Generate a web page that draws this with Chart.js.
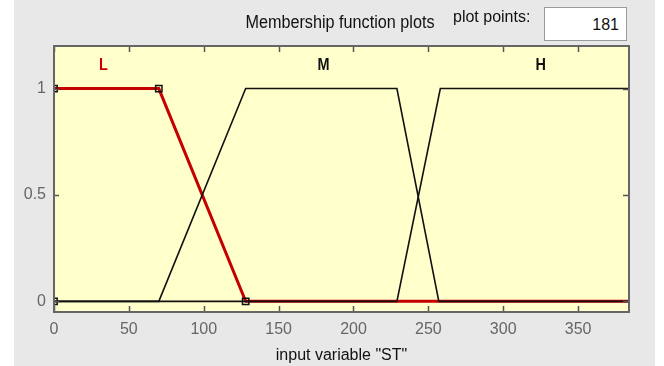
<!DOCTYPE html>
<html>
<head>
<meta charset="utf-8">
<script src="https://cdn.jsdelivr.net/npm/chart.js@4.4.1/dist/chart.umd.min.js"></script>
<style>
  html, body { margin: 0; padding: 0; background: #fff; }
  #wrap { position: relative; width: 664px; height: 366px; }
  #pp { position: absolute; left: 453px; top: 8px; font: 16px 'Liberation Sans', Arial, sans-serif; color: #111; }
  #box { position: absolute; left: 544px; top: 7px; width: 81px; height: 32px; background: #fff; border: 1px solid #9a9a9a;
         font: 16px 'Liberation Sans', Arial, sans-serif; color: #111; text-align: right; line-height: 33px; }
  #box span { padding-right: 7px; }
</style>
</head>
<body>
<div id="wrap">
  <canvas id="mfChart" width="664" height="366"></canvas>
  <div id="pp">plot points:</div>
  <div id="box"><span>181</span></div>
</div>
<script>
var fnt = "'Liberation Sans', Arial, sans-serif";

// axis ticks
var xTicks = [0, 50, 100, 150, 200, 250, 300, 350];
var yTicks = [0, 0.5, 1];

// membership functions (x, y)
var lowX  = [0, 70, 128, 384];
var lowY  = [1, 1, 0, 0];
var midX  = [0, 70, 128, 229, 257, 384];
var midY  = [0, 0, 1, 1, 0, 0];
var highX = [0, 229, 258, 384];
var highY = [0, 0, 1, 1];

// vertices of the selected MF (L)
var vertX = [0, 0, 70, 128];
var vertY = [0, 1, 1, 0];

// MF names and where they are written
var mfNames  = ["L", "M", "H"];
var mfLabelX = [33, 180, 325];
var mfLabelY = 1.11;
var mfColors = ["#c80000", "#111111", "#111111"];

function pts(xs, ys) {
  return xs.map(function (x, i) { return { x: x, y: ys[i] }; });
}

// narrow text, like the original GUI font
function narrowText(ctx, txt, x, y, sx) {
  ctx.save();
  ctx.translate(x, y);
  ctx.scale(sx, 1);
  ctx.fillText(txt, 0, 0);
  ctx.restore();
}

var panelBg = {
  id: 'panelBg',
  beforeDraw: function (chart) {
    var ctx = chart.ctx, a = chart.chartArea;
    ctx.save();
    ctx.fillStyle = '#e8e8e8';
    ctx.fillRect(14, 0, 641, chart.height);
    ctx.fillStyle = '#ffffcc';
    ctx.fillRect(a.left, a.top, a.right - a.left, a.bottom - a.top);
    ctx.restore();
  },
  afterDraw: function (chart) {
    var ctx = chart.ctx, a = chart.chartArea;
    var xs = chart.scales.x, ys = chart.scales.y;
    ctx.save();
    // inward tick marks
    ctx.strokeStyle = '#555';
    ctx.lineWidth = 1.5;
    ctx.beginPath();
    xTicks.forEach(function (v) {
      var px = Math.round(xs.getPixelForValue(v)) + 0.5;
      ctx.moveTo(px, a.bottom); ctx.lineTo(px, a.bottom - 6);
      ctx.moveTo(px, a.top); ctx.lineTo(px, a.top + 6);
    });
    yTicks.forEach(function (v) {
      var py = Math.round(ys.getPixelForValue(v)) + 0.5;
      ctx.moveTo(a.left, py); ctx.lineTo(a.left + 5, py);
      ctx.moveTo(a.right, py); ctx.lineTo(a.right - 6, py);
    });
    ctx.stroke();
    // frame
    ctx.strokeStyle = '#666';
    ctx.lineWidth = 2;
    ctx.strokeRect(a.left, a.top, a.right - a.left, a.bottom - a.top);
    // MF names
    ctx.font = 'bold 17px ' + fnt;
    ctx.textAlign = 'center';
    ctx.textBaseline = 'middle';
    mfNames.forEach(function (n, i) {
      ctx.fillStyle = mfColors[i];
      narrowText(ctx, n, xs.getPixelForValue(mfLabelX[i]), ys.getPixelForValue(mfLabelY), 0.85);
    });
    // title
    ctx.fillStyle = '#111';
    ctx.font = '18px ' + fnt;
    narrowText(ctx, 'Membership function plots', 340, 23, 0.9);
    ctx.restore();
  }
};

var chart = new Chart(document.getElementById('mfChart'), {
  type: 'scatter',
  data: {
    datasets: [{
      label: 'verts',
      data: pts(vertX, vertY),
      showLine: false,
      pointStyle: 'rect',
      pointRadius: 4.5,
      pointBorderWidth: 1.5,
      pointBorderColor: '#111',
      pointBackgroundColor: 'rgba(0,0,0,0)'
    }, {
      label: 'M',
      data: pts(midX, midY),
      showLine: true,
      borderColor: '#111',
      borderWidth: 1.6,
      pointRadius: 0
    }, {
      label: 'H',
      data: pts(highX, highY),
      showLine: true,
      borderColor: '#111',
      borderWidth: 1.6,
      pointRadius: 0
    }, {
      label: 'L',
      data: pts(lowX, lowY),
      showLine: true,
      borderColor: '#c40000',
      borderWidth: 3,
      pointRadius: 0
    }]
  },
  options: {
    responsive: false,
    animation: false,
    events: [],
    layout: { padding: { left: 0, right: 35, top: 46, bottom: 0 } },
    plugins: { legend: { display: false }, tooltip: { enabled: false } },
    scales: {
      x: {
        type: 'linear',
        min: 0,
        max: 384,
        grid: { display: false, drawTicks: false },
        border: { display: false },
        afterBuildTicks: function (s) { s.ticks = xTicks.map(function (v) { return { value: v }; }); },
        afterFit: function (s) { s.height = 54; },
        ticks: { color: '#666', padding: 8, maxRotation: 0, autoSkip: false, font: { family: fnt, size: 16 } },
        title: { display: true, text: 'input variable "ST"', color: '#111', padding: { top: 0, bottom: 1 }, font: { family: fnt, size: 16 } }
      },
      y: {
        min: -0.05,
        max: 1.2,
        grid: { display: false, drawTicks: false },
        border: { display: false },
        afterBuildTicks: function (s) { s.ticks = yTicks.map(function (v) { return { value: v }; }); },
        afterFit: function (s) { s.width = 54; },
        ticks: { color: '#666', padding: 8, font: { family: fnt, size: 16 }, callback: function (v) { return String(v); } }
      }
    }
  },
  plugins: [panelBg]
});
</script>
</body>
</html>
